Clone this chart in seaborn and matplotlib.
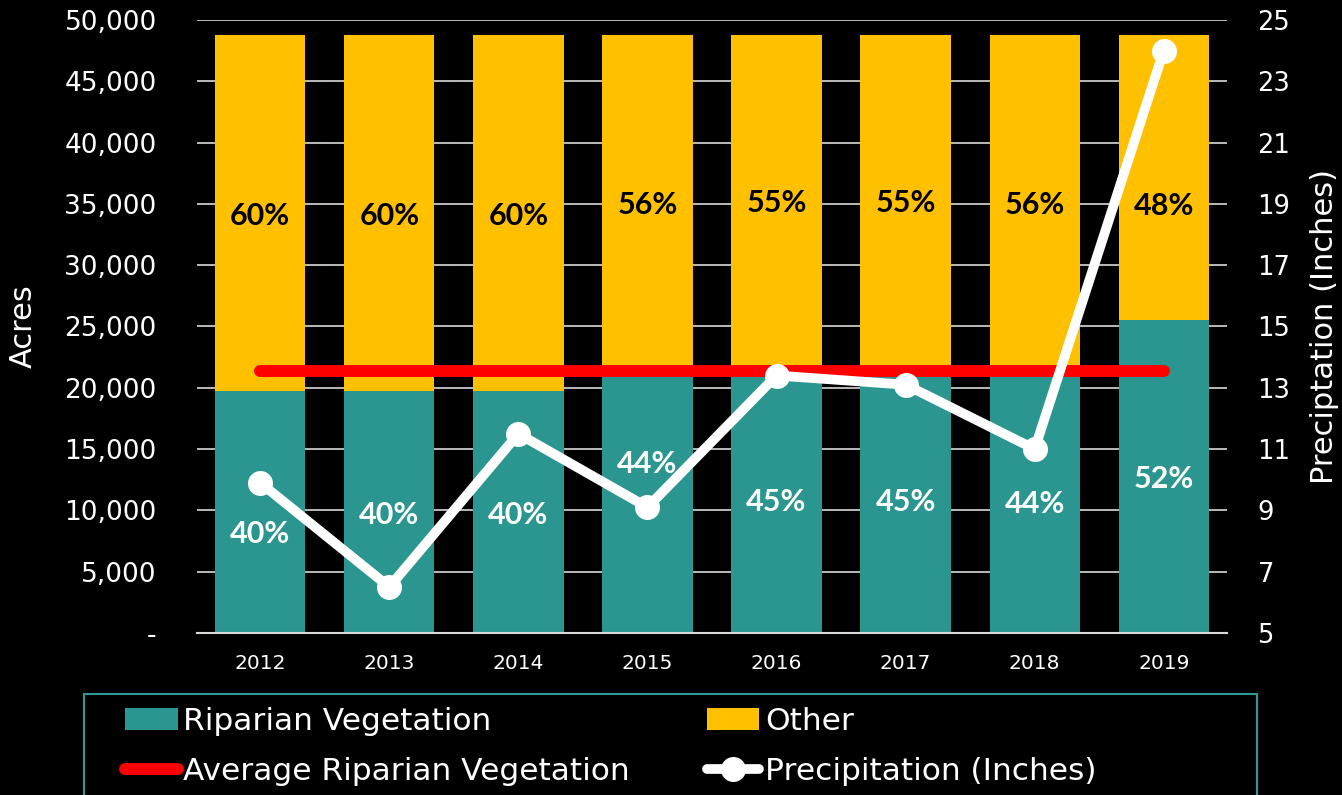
import matplotlib
matplotlib.use("Agg")
import matplotlib.pyplot as plt
import seaborn as sns
import numpy as np
import pandas as pd
from matplotlib.patches import Patch, Rectangle
from matplotlib.lines import Line2D
from matplotlib.ticker import FuncFormatter

years = ["2012", "2013", "2014", "2015", "2016", "2017", "2018", "2019"]
total_acres = [48800, 48800, 48800, 48800, 48800, 48800, 48800, 48800]
riparian_acres = [19700, 19700, 19700, 21400, 21800, 21800, 21400, 25500]
precip_inches = [9.9, 6.5, 11.5, 9.1, 13.4, 13.1, 11.0, 24.0]

teal = "#2A968F"
gold = "#FFC000"
red = "#FF0000"

sns.set_style("dark")
plt.rcParams["font.family"] = ["DejaVu Sans"]
label_font = ["Lato", "DejaVu Sans"]

df = pd.DataFrame({"year": years, "total": total_acres, "riparian": riparian_acres})
df["other"] = df["total"] - df["riparian"]
avg_riparian = df["riparian"].mean()
pos = np.arange(len(years))

fig = plt.figure(figsize=(13.42, 7.95), dpi=100, facecolor="black")
ax = fig.add_axes([0.1468, 0.2038, 0.7675, 0.7711])
ax.set_facecolor("black")

sns.barplot(data=df, x="year", y="total", color=gold, saturation=1, width=0.7,
            linewidth=0, ax=ax)
sns.barplot(data=df, x="year", y="riparian", color=teal, saturation=1, width=0.7,
            linewidth=0, ax=ax)
sns.lineplot(x=pos, y=np.full(len(pos), avg_riparian), color=red, lw=8.6,
             solid_capstyle="round", ax=ax)

ax.set_xlim(-0.49, len(years) - 0.51)
ax.set_ylim(0, 50000)
ax.set_yticks(np.arange(0, 50001, 5000))
ax.yaxis.set_major_formatter(FuncFormatter(lambda v, p: "-" if v == 0 else f"{v:,.0f}"))
ax.yaxis.grid(True, color="#d9d9d9", lw=1.2)
ax.xaxis.grid(False)
ax.set_axisbelow(True)
for s in ["left", "right", "top"]:
    ax.spines[s].set_visible(False)
ax.spines["bottom"].set_color("#d9d9d9")
ax.spines["bottom"].set_linewidth(1.5)
ax.tick_params(axis="y", colors="white", labelsize=19, length=0, pad=29)
ax.tick_params(axis="x", colors="white", labelsize=14.5, length=0, pad=15)
ax.set_xlabel("")
ax.set_ylabel("Acres", color="white", fontsize=22)
ax.yaxis.set_label_coords(-0.155, 0.5)

# percentage labels
nudge_rip = {0: -1600, 3: 3300}
nudge_other = {7: -2100}
for i, row in df.iterrows():
    rp = round(row["riparian"] / row["total"] * 100)
    op = 100 - rp
    y_r = row["riparian"] / 2 + nudge_rip.get(i, 0)
    y_o = row["riparian"] + row["other"] / 2 + nudge_other.get(i, 0)
    ax.text(i, y_r, f"{rp}%", color="white", fontsize=22, fontweight="bold",
            family=label_font, ha="center", va="center_baseline")
    ax.text(i, y_o, f"{op}%", color="black", fontsize=22, fontweight="bold",
            family=label_font, ha="center", va="center_baseline")

ax2 = ax.twinx()
sns.lineplot(x=pos, y=precip_inches, color="white", lw=7, marker="o", markersize=18,
             markeredgewidth=0, solid_capstyle="round", ax=ax2)
ax2.set_ylim(5, 25)
ax2.set_yticks(np.arange(5, 26, 2))
ax2.grid(False)
for s in ax2.spines.values():
    s.set_visible(False)
ax2.tick_params(axis="y", colors="white", labelsize=18.5, length=0, pad=22)
ax2.set_ylabel("Preciptation (Inches)", color="white", fontsize=22)
ax2.yaxis.set_label_coords(1.0806, 0.5)

handles = [
    Patch(facecolor=teal, edgecolor="none"),
    Line2D([], [], color=red, lw=8.6, solid_capstyle="round"),
    Patch(facecolor=gold, edgecolor="none"),
    Line2D([], [], color="white", lw=7, marker="o", markersize=18,
           markeredgewidth=0, solid_capstyle="round"),
]
labels = ["Riparian Vegetation", "Average Riparian Vegetation", "Other",
          "Precipitation (Inches)"]
leg = fig.legend(handles, labels, ncol=2, loc="upper left",
                 bbox_to_anchor=(125 / 1342, 1 - 707 / 795), frameon=False,
                 fontsize=22.5, handlelength=1.68, handletextpad=0.19,
                 columnspacing=2.45, labelspacing=0.68, borderpad=0, borderaxespad=0)
for t in leg.get_texts():
    t.set_color("white")

fig.add_artist(Rectangle((84 / 1342, -0.05), (1257 - 84) / 1342, 1 - 694 / 795 + 0.05,
                         transform=fig.transFigure, fill=False, edgecolor="#2E9A93",
                         lw=1.5))

fig.savefig("out.png", dpi=100, facecolor="black")
